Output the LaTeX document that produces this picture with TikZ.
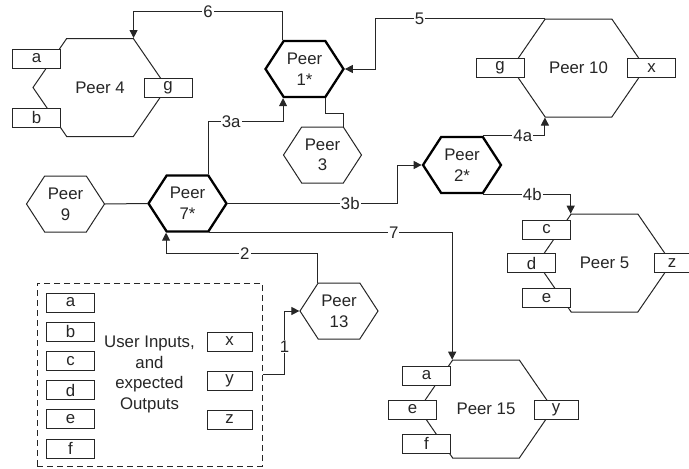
\documentclass[tikz,border=0pt]{standalone}
\usepackage{fontspec}
\setmainfont{Liberation Sans}
\usepackage{tikz}
\usetikzlibrary{arrows.meta,shapes.symbols}
\newcommand{\dgfont}{\fontsize{16.8}{20.6}\selectfont}

\begin{document}
\begin{tikzpicture}[
  x=1pt, y=-1pt,
  line width=1pt,
  peer/.style={shape=signal, signal to=east and west, signal from=nowhere, signal pointer angle=114,
    draw=black!85, fill=white, inner sep=0pt, minimum width=78pt, minimum height=56pt,
    align=center, font=\dgfont, text=black!85},
  hub/.style={peer, line width=2.3pt, draw=black},
  host/.style={peer, signal pointer angle=111, minimum width=134pt, minimum height=98pt},
  port/.style={draw=black!85, fill=white, inner sep=0pt, minimum width=48pt, minimum height=19pt,
    font=\dgfont, text=black!85},
  inbox/.style={draw=black!85, dash pattern=on 6pt off 4pt, minimum width=225pt, minimum height=183pt,
    align=center, font=\dgfont, text=black!85},
  lbl/.style={fill=white, inner sep=1pt, font=\dgfont, text=black!85},
  wire/.style={draw=black!85},
  arr/.style={wire, -{Triangle[length=8pt,width=8pt]}}
]
\useasboundingbox (0,0) rectangle (689,469);

% peers
\node[hub] (p1) at (304.5,69) {Peer\\1*};
\node[hub] (p2) at (462,165) {Peer\\2*};
\node[hub] (p7) at (187.5,203.5) {Peer\\7*};
\node[peer] (p3) at (322.5,155) {Peer\\3};
\node[peer] (p9) at (65.5,204) {Peer\\9};
\node[peer] (p13) at (339,311) {Peer\\13};
\node[host] (p4) at (100,87.5) {Peer 4};
\node[host] (p10) at (578.5,68) {Peer 10};
\node[host] (p5) at (604.5,263) {Peer 5};
\node[host] (p15) at (486,409) {Peer 15};

% ports on the peers
\node[port] (p4a) at (36.5,58.5) {a};
\node[port] (p4b) at (36.5,117.5) {b};
\node[port] (p4g) at (168,87.5) {g};
\node[port] (p10g) at (500,68) {g};
\node[port] (p10x) at (651.5,68) {x};
\node[port] (p5c) at (546.5,229.5) {c};
\node[port] (p5d) at (531.5,263) {d};
\node[port] (p5e) at (546.5,298) {e};
\node[port, minimum width=36pt] (p5z) at (672,263) {z};
\node[port] (p15a) at (426.5,375.5) {a};
\node[port] (p15e) at (412.5,409.5) {e};
\node[port] (p15f) at (426.5,443.5) {f};
\node[port, minimum width=44pt] (p15y) at (556,409.5) {y};

% user inputs and expected outputs
\node[inbox] (inp) at (149.5,374.5) {User Inputs,\\and\\expected\\Outputs};
\foreach \t [count=\i from 0] in {a,b,c,d,e,f}
  \node[port] (in\t) at (70.5,302.5+29.2*\i) {\t};
\foreach \t [count=\i from 0] in {x,y,z}
  \node[port, minimum width=45pt] (out\t) at (229.5,341.5+39*\i) {\t};

% messages
\draw[arr] (p1.north west) -- ++(0,-29) -| node[lbl,pos=0.25]{6} (p4.north east);
\draw[arr] (p10.north west) -- node[lbl,pos=0.74]{5} ++(-169,0) |- (p1.east);
\draw[arr] (p7.north east) -- ++(0,-53) -| node[lbl,pos=0.15]{3a} (p1.south west);
\draw[wire] (p1.south east) -- ++(0,15) -| (p3.north east);
\draw[arr] (p7.east) -- node[lbl,pos=0.72]{3b} ++(170,0) |- (p2.west);
\draw[arr] (p2.north east) -| node[lbl,pos=0.32]{4a} (p10.south west);
\draw[arr] (p2.south east) -| node[lbl,pos=0.28]{4b} (p5.north west);
\draw[arr] (p7.south east) -| node[lbl,pos=0.38]{7} (p15.north west);
\draw[arr] (p13.north west) -- ++(0,-29) -| node[lbl,pos=0.24]{2} (p7.south west);
\draw[arr] (inp.east) -- ++(22,0) |- node[lbl,pos=0.22]{1} (p13.west);
\draw[wire] (p9.east) -- (p7.west);
\end{tikzpicture}
\end{document}
